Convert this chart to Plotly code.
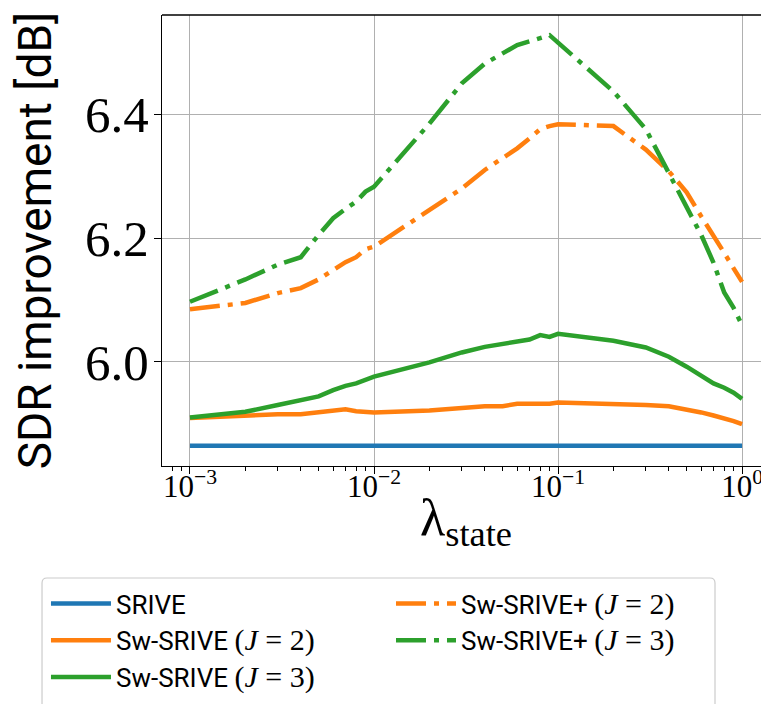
import plotly.graph_objects as go

lam = [0.001, 0.002, 0.003, 0.004, 0.005, 0.006, 0.007, 0.008, 0.009,
       0.01, 0.02, 0.03, 0.04, 0.05, 0.06, 0.07, 0.08, 0.09,
       0.1, 0.2, 0.3, 0.4, 0.5, 0.6, 0.7, 0.8, 0.9, 1.0]

srive = [5.864, 5.864, 5.864, 5.864, 5.864, 5.864, 5.864, 5.864, 5.864,
         5.864, 5.864, 5.864, 5.864, 5.864, 5.864, 5.864, 5.864, 5.864,
         5.864, 5.864, 5.864, 5.864, 5.864, 5.864, 5.864, 5.864, 5.864, 5.864]

sw_j2 = [5.909, 5.913, 5.915, 5.915, 5.918, 5.922, 5.923, 5.920, 5.918,
         5.918, 5.921, 5.925, 5.928, 5.928, 5.932, 5.932, 5.932, 5.932,
         5.934, 5.932, 5.930, 5.928, 5.923, 5.918, 5.913, 5.909, 5.904, 5.899]

sw_j3 = [5.910, 5.919, 5.930, 5.937, 5.944, 5.954, 5.961, 5.965, 5.970,
         5.976, 5.999, 6.015, 6.024, 6.029, 6.032, 6.036, 6.043, 6.040,
         6.045, 6.034, 6.023, 6.008, 5.992, 5.978, 5.965, 5.958, 5.950, 5.940]

swp_j2 = [6.085, 6.095, 6.111, 6.119, 6.133, 6.149, 6.161, 6.169, 6.182,
          6.186, 6.246, 6.280, 6.310, 6.329, 6.345, 6.361, 6.376, 6.381,
          6.384, 6.381, 6.343, 6.308, 6.274, 6.235, 6.205, 6.176, 6.151, 6.129]

swp_j3 = [6.097, 6.133, 6.157, 6.169, 6.205, 6.232, 6.247, 6.259, 6.275,
          6.283, 6.385, 6.450, 6.482, 6.499, 6.512, 6.518, 6.523, 6.528,
          6.516, 6.437, 6.376, 6.303, 6.250, 6.205, 6.160, 6.112, 6.087, 6.059]

x_tickvals = [0.001, 0.01, 0.1, 1.0]
x_ticktext = ["10<sup>\u22123</sup>", "10<sup>\u22122</sup>", "10<sup>\u22121</sup>", "10<sup>0</sup>"]
x_minor = [0.0008, 0.0009,
           0.002, 0.003, 0.004, 0.005, 0.006, 0.007, 0.008, 0.009,
           0.02, 0.03, 0.04, 0.05, 0.06, 0.07, 0.08, 0.09,
           0.2, 0.3, 0.4, 0.5, 0.6, 0.7, 0.8, 0.9]
y_tickvals = [6.0, 6.2, 6.4]
y_ticktext = ["6.0", "6.2", "6.4"]

BLUE, ORANGE, GREEN = "#1f77b4", "#ff7f0e", "#2ca02c"
SERIF = "Liberation Serif"
SANS = "Roboto"
DASHDOT = "30px,8px,5px,8px"
LW = 4.5

def jlab(prefix, j):
    return (prefix + " <span style=\"font-family:Liberation Serif;font-size:30px\">(<i>J</i> = "
            + str(j) + ")</span>")

fig = go.Figure()
fig.add_trace(go.Scatter(x=lam, y=srive, mode="lines", name="SRIVE",
                         line=dict(color=BLUE, width=LW), legend="legend"))
fig.add_trace(go.Scatter(x=lam, y=sw_j2, mode="lines", name=jlab("Sw-SRIVE", 2),
                         line=dict(color=ORANGE, width=LW), legend="legend"))
fig.add_trace(go.Scatter(x=lam, y=sw_j3, mode="lines", name=jlab("Sw-SRIVE", 3),
                         line=dict(color=GREEN, width=LW), legend="legend"))
fig.add_trace(go.Scatter(x=lam, y=swp_j2, mode="lines", name=jlab("Sw-SRIVE+", 2),
                         line=dict(color=ORANGE, width=LW, dash=DASHDOT), legend="legend2"))
fig.add_trace(go.Scatter(x=lam, y=swp_j3, mode="lines", name=jlab("Sw-SRIVE+", 3),
                         line=dict(color=GREEN, width=LW, dash=DASHDOT), legend="legend2"))

# paper coordinates of the legend frame (plot area: x 162..761, y 15..466)
bx0, bx1 = -0.2003, 0.9232
byt, byb = -0.2483, -0.56
rx, ry = 5 / 599, 5 / 451
frame = (f"M {bx0},{byb} L {bx0},{byt - ry} Q {bx0},{byt} {bx0 + rx},{byt} "
         f"L {bx1 - rx},{byt} Q {bx1},{byt} {bx1},{byt - ry} L {bx1},{byb}")

legend_common = dict(
    orientation="v", yanchor="top", xanchor="left",
    font=dict(family=SANS, size=26, color="black"),
    borderwidth=0, bgcolor="rgba(0,0,0,0)", itemwidth=60,
    traceorder="normal",
)

fig.update_layout(
    width=761, height=704,
    margin=dict(l=162, r=0, t=15, b=238, autoexpand=False),
    paper_bgcolor="white", plot_bgcolor="white",
    showlegend=True,
    legend=dict(x=-0.1937, y=-0.2528, **legend_common),
    legend2=dict(x=0.3823, y=-0.2528, **legend_common),
    shapes=[
        dict(type="line", xref="paper", yref="paper", x0=0, x1=1, y0=1, y1=1,
             line=dict(color="black", width=1.3)),
        dict(type="path", xref="paper", yref="paper", path=frame,
             line=dict(color="#cccccc", width=1.2)),
    ],
    annotations=[
        dict(text="<span style=\"font-family:Liberation Serif\">\u03bb<sub>state</sub></span>",
             xref="paper", yref="paper", x=0.5075, y=-0.047,
             xanchor="center", yanchor="top", showarrow=False,
             font=dict(family=SERIF, size=52, color="black")),
    ],
)

fig.update_xaxes(
    type="log", range=[-3.152, 0.103],
    tickmode="array", tickvals=x_tickvals, ticktext=x_ticktext,
    tickfont=dict(family=SERIF, size=31, color="black"),
    ticks="outside", ticklen=7, tickwidth=1.2, tickcolor="black",
    ticklabelstandoff=-14, ticklabeloverflow="allow",
    showline=True, linecolor="black", linewidth=1.3,
    showgrid=True, gridcolor="#b0b0b0", gridwidth=1,
    zeroline=False,
    minor=dict(tickmode="array", tickvals=x_minor, ticks="outside", ticklen=4,
               tickwidth=1, tickcolor="black", showgrid=False),
)
fig.update_yaxes(
    range=[5.8314, 6.5606],
    tickmode="array", tickvals=y_tickvals, ticktext=y_ticktext,
    tickfont=dict(family=SERIF, size=51, color="black"),
    ticks="outside", ticklen=7, tickwidth=1.2, tickcolor="black",
    ticklabelstandoff=-5,
    showline=True, linecolor="black", linewidth=1.3,
    showgrid=True, gridcolor="#b0b0b0", gridwidth=1,
    zeroline=False,
    title=dict(text="SDR improvement [dB]", font=dict(family=SANS, size=46, color="black"),
               standoff=18),
)

fig.write_html("out.html")
